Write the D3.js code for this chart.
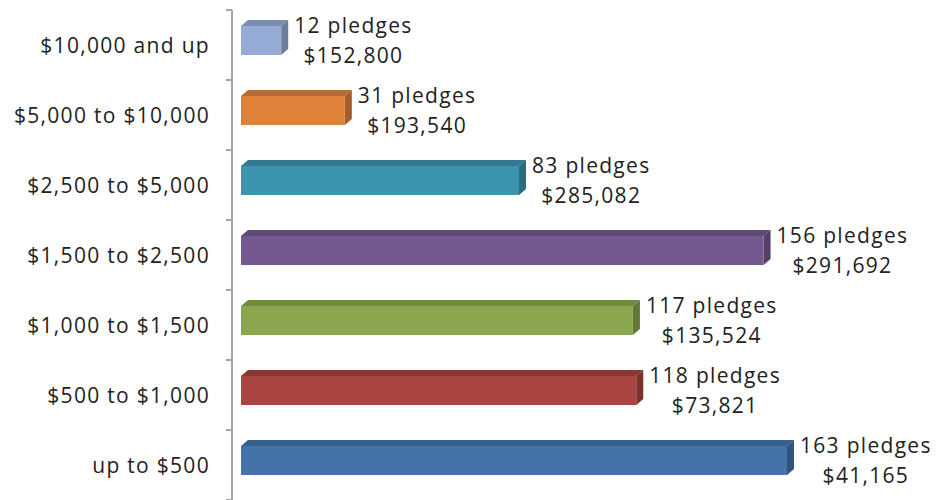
<!DOCTYPE html>
<html>
<head>
<meta charset="utf-8">
<script src="https://cdn.jsdelivr.net/npm/d3@7"></script>
<style>
  body { margin: 0; background: #fff; }
  svg text { font-family: "Open Sans", "Noto Sans", sans-serif; }
</style>
</head>
<body>
<div class="barChart"></div>
<script>
var categories = ["$10,000 and up", "$5,000 to $10,000", "$2,500 to $5,000", "$1,500 to $2,500",
                  "$1,000 to $1,500", "$500 to $1,000", "up to $500"];
var pledges = [12, 31, 83, 156, 117, 118, 163];
var amounts = [152800, 193540, 285082, 291692, 135524, 73821, 41165];
var colors = ["#95abd6", "#e0813a", "#3d94ae", "#735990", "#8aa74f", "#a94440", "#4573a9"];

function init() {
    var w = 946;
    var h = 500;
    var depth = 7;
    var fontSize = "21px";
    var spacing = "1.3px";

    var data = categories.map(function(c, i) {
        return { cat: c, pledges: pledges[i], amount: amounts[i], color: colors[i] };
    });

    var svg = d3.select(".barChart")
        .append("svg")
        .attr("width", w)
        .attr("height", h);

    // scales
    var xScale = d3.scaleLinear()
        .domain([0, 163])
        .range([241, 787]);

    var yScale = d3.scaleBand()
        .domain(categories)
        .range([10, 500])
        .paddingInner(0)
        .paddingOuter(0);

    // y axis with category labels
    var yAxis = d3.axisLeft(yScale)
        .tickSize(0)
        .tickPadding(22);

    var gy = svg.append("g")
        .attr("transform", "translate(232,0)")
        .attr("font-family", null)
        .call(yAxis);
    gy.select(".domain").remove();
    gy.selectAll("text")
        .style("font-size", fontSize)
        .style("letter-spacing", spacing)
        .attr("fill", "#222")
        .attr("dy", "0.36em");

    // axis line and band ticks
    svg.append("line")
        .attr("x1", 232).attr("x2", 232)
        .attr("y1", yScale.range()[0]).attr("y2", h)
        .attr("stroke", "#a6a6a6")
        .attr("stroke-width", 2);

    var tickYs = categories.map(function(c) { return yScale(c); }).concat([yScale.range()[1]]);
    svg.selectAll(".tick-mark")
        .data(tickYs)
        .enter().append("line")
        .attr("class", "tick-mark")
        .attr("x1", 226).attr("x2", 232)
        .attr("y1", function(d) { return d; })
        .attr("y2", function(d) { return d; })
        .attr("stroke", "#a6a6a6")
        .attr("stroke-width", 2);

    // 3D bars
    var bars = svg.selectAll(".bar")
        .data(data)
        .enter().append("g")
        .attr("class", "bar");

    function frontTop(d) { return yScale(d.cat) + 16; }
    var frontH = 29;

    // top face
    bars.append("path")
        .attr("d", function(d) {
            var x0 = xScale(0), x1 = xScale(d.pledges), y0 = frontTop(d);
            return "M" + x0 + "," + y0 + "L" + (x0 + depth) + "," + (y0 - depth + 1) +
                   "L" + (x1 + depth) + "," + (y0 - depth + 1) + "L" + x1 + "," + y0 + "Z";
        })
        .attr("fill", function(d) { return d3.color(d.color).darker(0.55); });

    // right face
    bars.append("path")
        .attr("d", function(d) {
            var x1 = xScale(d.pledges), y0 = frontTop(d);
            return "M" + x1 + "," + y0 + "L" + (x1 + depth) + "," + (y0 - depth + 1) +
                   "L" + (x1 + depth) + "," + (y0 + frontH - depth + 1) + "L" + x1 + "," + (y0 + frontH) + "Z";
        })
        .attr("fill", function(d) { return d3.color(d.color).darker(0.9); });

    // front face
    bars.append("rect")
        .attr("x", xScale(0))
        .attr("y", function(d) { return frontTop(d); })
        .attr("width", function(d) { return xScale(d.pledges) - xScale(0); })
        .attr("height", frontH)
        .attr("fill", function(d) { return d.color; });

    // labels: two centred lines, block starts just past the bar
    var fmt = d3.format(",");
    var labels = bars.append("text")
        .attr("text-anchor", "middle")
        .style("font-size", fontSize)
        .style("letter-spacing", spacing)
        .attr("fill", "#222");

    labels.append("tspan")
        .attr("y", function(d) { return yScale(d.cat) + 23; })
        .text(function(d) { return d.pledges + " pledges"; });

    labels.append("tspan")
        .attr("y", function(d) { return yScale(d.cat) + 53; })
        .text(function(d) { return "$" + fmt(d.amount); });

    labels.each(function(d) {
        var spans = d3.select(this).selectAll("tspan").nodes();
        var wMax = d3.max(spans, function(s) { return s.getComputedTextLength(); });
        var cx = xScale(d.pledges) + depth + 6 + wMax / 2;
        d3.select(this).selectAll("tspan").attr("x", cx);
    });
}

window.onload = init;
</script>
</body>
</html>
